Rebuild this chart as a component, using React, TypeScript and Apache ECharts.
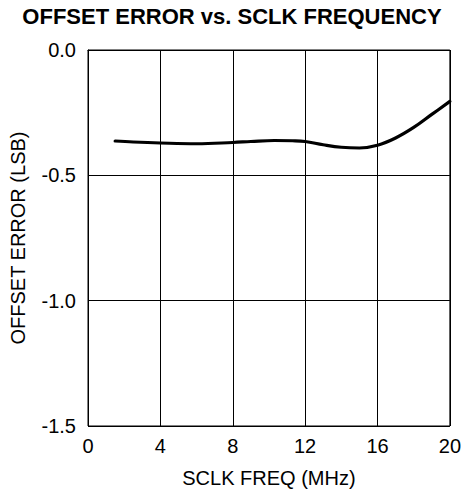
import React, { useEffect, useRef } from "react";
import * as echarts from "echarts";

const freqMHz = [1.5, 2.5, 4, 6, 8, 9, 10.3, 11.3, 12, 13, 14, 15, 16, 17, 18, 19, 20];
const offsetLSB = [-0.363, -0.367, -0.371, -0.374, -0.369, -0.365, -0.361, -0.362, -0.365, -0.378, -0.388, -0.391, -0.38, -0.351, -0.309, -0.257, -0.205];
const xTicks = [0, 4, 8, 12, 16, 20];
const yTicks = [0, -0.5, -1.0, -1.5];

const FONT = "'Liberation Sans', Arial, sans-serif";

export default function App() {
  const ref = useRef<HTMLDivElement>(null);
  useEffect(() => {
    if (!ref.current) return;
    const chart = echarts.init(ref.current, null, { renderer: "svg" });
    chart.setOption({
      animation: false,
      backgroundColor: "#ffffff",
      title: {
        text: "OFFSET ERROR vs. SCLK FREQUENCY",
        left: "center",
        top: 0,
        textStyle: { fontFamily: FONT, fontSize: 22, fontWeight: "bold", color: "#000" },
      },
      grid: {
        left: 87,
        right: 14,
        top: 50,
        bottom: 71,
        show: true,
        borderColor: "#000",
        borderWidth: 1,
        containLabel: false,
      },
      xAxis: {
        type: "value",
        min: xTicks[0],
        max: xTicks[xTicks.length - 1],
        interval: 4,
        name: "SCLK FREQ (MHz)",
        nameLocation: "middle",
        nameGap: 42,
        nameTextStyle: { fontFamily: FONT, fontSize: 20, color: "#000" },
        axisLine: { show: true, lineStyle: { color: "#000", width: 1 } },
        axisTick: { show: false },
        axisLabel: { fontFamily: FONT, fontSize: 20, color: "#000", margin: 10 },
        splitLine: { show: true, lineStyle: { color: "#000", width: 1 } },
      },
      yAxis: {
        type: "value",
        min: yTicks[yTicks.length - 1],
        max: yTicks[0],
        interval: 0.5,
        name: "OFFSET ERROR (LSB)",
        nameLocation: "middle",
        nameGap: 60,
        nameTextStyle: { fontFamily: FONT, fontSize: 20, color: "#000" },
        axisLine: { show: true, lineStyle: { color: "#000", width: 1 } },
        axisTick: { show: false },
        axisLabel: {
          fontFamily: FONT,
          fontSize: 20,
          color: "#000",
          margin: 12,
          formatter: (v: number) => v.toFixed(1),
        },
        splitLine: { show: true, lineStyle: { color: "#000", width: 1 } },
      },
      series: [
        {
          type: "line",
          data: freqMHz.map((f, i) => [f, offsetLSB[i]]),
          smooth: 0.4,
          showSymbol: false,
          symbol: "none",
          lineStyle: { color: "#000", width: 3.2, cap: "round" },
        },
      ],
    });
    return () => chart.dispose();
  }, []);
  return (
    <div
      ref={ref}
      style={{ position: "fixed", left: 0, top: 0, width: 464, height: 497 }}
    />
  );
}
